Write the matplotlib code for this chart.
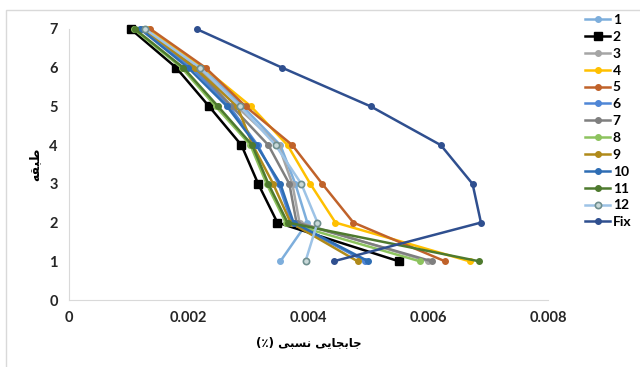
import matplotlib
matplotlib.use("Agg")
import matplotlib.pyplot as plt
from matplotlib.patches import Rectangle

plt.rcParams['font.family'] = ['Lato', 'DejaVu Sans']

floors = [1, 2, 3, 4, 5, 6, 7]
labels = ['1', '2', '3', '4', '5', '6', '7', '8', '9', '10', '11', '12', 'Fix']

# relative drift per floor (floor 1 .. 7)
s1 = [0.00353, 0.00398, 0.00378, 0.00353, 0.00290, 0.00222, 0.00130]
s2 = [0.00551, 0.00348, 0.00316, 0.00288, 0.00234, 0.00179, 0.00103]
s3 = [0.00600, 0.00385, 0.00373, 0.00350, 0.00280, 0.00215, 0.00128]
s4 = [0.00669, 0.00445, 0.00403, 0.00365, 0.00304, 0.00225, 0.00133]
s5 = [0.00628, 0.00475, 0.00423, 0.00373, 0.00295, 0.00228, 0.00136]
s6 = [0.00495, 0.00372, 0.00350, 0.00315, 0.00268, 0.00205, 0.00122]
s7 = [0.00606, 0.00380, 0.00368, 0.00333, 0.00272, 0.00210, 0.00125]
s8 = [0.00586, 0.00362, 0.00330, 0.00303, 0.00245, 0.00188, 0.00108]
s9 = [0.00482, 0.00370, 0.00341, 0.00307, 0.00281, 0.00210, 0.00125]
s10 = [0.00500, 0.00375, 0.00353, 0.00313, 0.00264, 0.00199, 0.00119]
s11 = [0.00685, 0.00365, 0.00333, 0.00306, 0.00249, 0.00191, 0.00110]
s12 = [0.00395, 0.00415, 0.00388, 0.00345, 0.00286, 0.00219, 0.00127]
fix = [0.00442, 0.00688, 0.00674, 0.00621, 0.00504, 0.00356, 0.00213]

series = [s1, s2, s3, s4, s5, s6, s7, s8, s9, s10, s11, s12, fix]
colors = ['#7DAEDC', '#000000', '#A5A5A5', '#FFC000', '#C0622A', '#4F86D6',
          '#7F7F7F', '#8DC35E', '#B08A1A', '#2E6DB4', '#4E7A2E', '#9DC3E6', '#2F4F8F']

fig = plt.figure(figsize=(6.4, 3.67), dpi=100)
ax = fig.add_axes([69/640, 1-300/367, (548-69)/640, (300-29)/367])

for i in range(len(series)):
    if labels[i] == '2':
        ax.plot(series[i], floors, color=colors[i], lw=1.8, marker='s', ms=5.5,
                label=labels[i], clip_on=False)
    elif labels[i] == '12':
        ax.plot(series[i], floors, color=colors[i], lw=1.8, marker='o', ms=4.5,
                mfc='#C9D9D9', mec='#6F8F8F', mew=1.2, label=labels[i], clip_on=False)
    else:
        ax.plot(series[i], floors, color=colors[i], lw=1.8, marker='o', ms=4,
                label=labels[i], clip_on=False)

ax.set_xlim(0, 0.008)
ax.set_ylim(0, 7)
ax.set_xticks([0, 0.002, 0.004, 0.006, 0.008])
ax.set_xticklabels(['0', '0.002', '0.004', '0.006', '0.008'])
ax.set_yticks(range(8))
for s in ['top', 'right']:
    ax.spines[s].set_visible(False)
for s in ['left', 'bottom']:
    ax.spines[s].set_color('#D9D9D9')
ax.tick_params(length=0, labelsize=10.5, colors='#262626', pad=8)
for t in ax.get_xticklabels() + ax.get_yticklabels():
    t.set_fontweight('bold')

# طبقه / جابجایی نسبی (٪)  (presentation forms, visual order)
ax.set_ylabel('\uFEEA\uFED8\uFE92\uFEC3', family=['DejaVu Sans'], fontsize=9,
              fontweight='bold', labelpad=6)
ax.set_xlabel('(\u066A) \uFBFD\uFE92\uFEB4\uFEE7 \uFBFD\uFBFE\uFE8E\uFEA0\uFE91\uFE8E\uFE9F',
              family=['DejaVu Sans'], fontsize=8.5, fontweight='bold', labelpad=8)

leg = ax.legend(loc='upper left', bbox_to_anchor=(585/640, 1-14/367),
                bbox_transform=fig.transFigure, frameon=False, borderpad=0,
                borderaxespad=0, handlelength=1.8, handletextpad=0.2,
                labelspacing=0.35, prop={'weight': 'bold', 'size': 10})

fig.patches.append(Rectangle((6/640, -0.1), 1.2, 1.1 - 10/367, transform=fig.transFigure,
                             fill=False, edgecolor='#D9D9D9', lw=1))

fig.savefig('out.png', dpi=100)
